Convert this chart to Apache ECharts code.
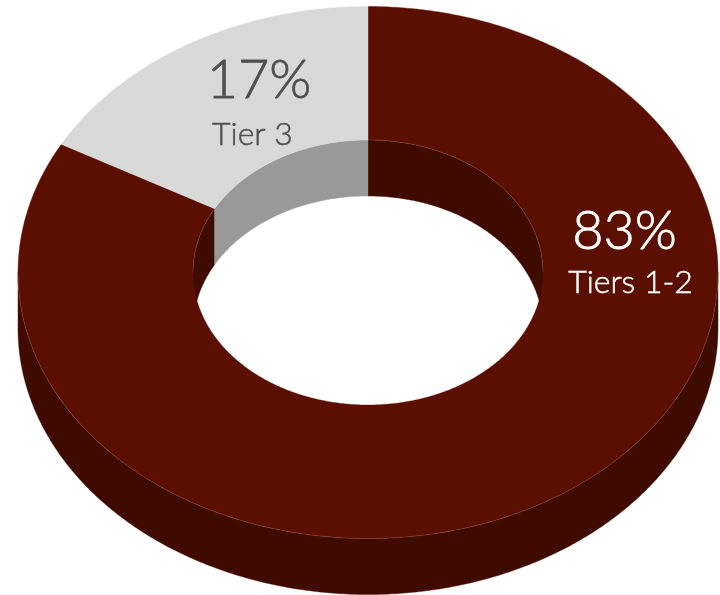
<!DOCTYPE html>
<html>
<head>
<meta charset="utf-8">
<style>html,body{margin:0;padding:0;background:#fff}#chart{width:720px;height:595px}</style>
<script src="https://cdn.jsdelivr.net/npm/echarts@6/dist/echarts.min.js"></script>
</head>
<body>
<div id="chart"></div>
<script>
// Share of spend by supplier tier
const categories = ['Tiers 1-2', 'Tier 3'];
const shares = [83, 17];

// Tilted-ring geometry
const CX = 368, CY = 272.5, RX = 350, RY = 266;
const INNER_RX = 175, INNER_RY = 132.5, DEPTH = 56;

const faceColors = ['#5a0f00', '#d9d9d9'];
const wallColors = ['#3f0a00', '#999999'];
const textColors = ['#ffffff', '#505050'];
const rimHighlight = 'rgba(255,215,195,0.2)';
const labelAnchors = [
  { x: 624.5, pct: 232, nameX: 630.5, name: 283 },
  { x: 259, pct: 81, nameX: 252.5, name: 135 }
];

const total = shares.reduce((a, b) => a + b, 0);

// Point on an ellipse; theta is in degrees, clockwise from twelve o'clock
function pt(theta, rx, ry, dy) {
  const t = theta * Math.PI / 180;
  return [CX + rx * Math.sin(t), CY + dy - ry * Math.cos(t)];
}
function arc(a0, a1, rx, ry, dy) {
  const n = Math.max(2, Math.ceil(Math.abs(a1 - a0) * 2));
  const out = [];
  for (let i = 0; i <= n; i++) out.push(pt(a0 + (a1 - a0) * i / n, rx, ry, dy));
  return out;
}
// Part of [a0,a1] that overlaps a visible window, also tried one turn on
function clipped(a0, a1, lo, hi) {
  const spans = [];
  [-360, 0, 360].forEach(k => {
    const s = Math.max(a0, lo + k), e = Math.min(a1, hi + k);
    if (e > s) spans.push([s, e]);
  });
  return spans;
}
function band(a0, a1, rx, ry) {
  return arc(a0, a1, rx, ry, 0).concat(arc(a1, a0, rx, ry, DEPTH));
}

function renderSlice(params, api) {
  const i = params.dataIndex;
  const value = api.value(0);
  let start = 0;
  for (let k = 0; k < i; k++) start += shares[k];
  const a0 = start / total * 360, a1 = (start + value) / total * 360;
  const children = [];
  const poly = (points, fill) => ({
    type: 'polygon',
    shape: { points },
    style: { fill, stroke: fill, lineWidth: 0.4 }
  });
  const rim = points => ({
    type: 'polyline', z2: 5,
    shape: { points },
    style: { fill: null, stroke: rimHighlight, lineWidth: 0.8 }
  });
  // the near half of the outer rim faces the viewer, the far half of the hole does too
  const outerSpans = clipped(a0, a1, 90, 270);
  const innerSpans = clipped(a0, a1, 270, 450);
  outerSpans.forEach(s => children.push(poly(band(s[0], s[1], RX, RY), wallColors[i])));
  innerSpans.forEach(s => children.push(poly(band(s[0], s[1], INNER_RX, INNER_RY), wallColors[i])));
  children.push(poly(arc(a0, a1, RX, RY, 0).concat(arc(a1, a0, INNER_RX, INNER_RY, 0)), faceColors[i]));
  outerSpans.forEach(s => children.push(rim(arc(s[0], s[1], RX, RY, 0))));
  if (i === 0) innerSpans.forEach(s => children.push(rim(arc(s[0], s[1], INNER_RX, INNER_RY, 0))));
  const anchor = labelAnchors[i];
  children.push({
    type: 'text', z2: 10,
    style: {
      x: anchor.x, y: anchor.pct, text: value + '%', align: 'center', verticalAlign: 'middle',
      font: '300 54px Lato', fill: textColors[i], stroke: textColors[i], lineWidth: 0.8
    }
  });
  children.push({
    type: 'text', z2: 10,
    style: {
      x: anchor.nameX, y: anchor.name, text: categories[i], align: 'center', verticalAlign: 'middle',
      font: '300 32px Lato', fill: textColors[i], stroke: textColors[i], lineWidth: 0.5
    }
  });
  return { type: 'group', children };
}

const chart = echarts.init(document.getElementById('chart'), null, { renderer: 'canvas' });
chart.setOption({
  animation: false,
  backgroundColor: '#ffffff',
  series: [{
    type: 'custom',
    coordinateSystem: 'none',
    renderItem: renderSlice,
    data: shares.map((v, i) => ({ name: categories[i], value: [v] }))
  }]
});
</script>
</body>
</html>
